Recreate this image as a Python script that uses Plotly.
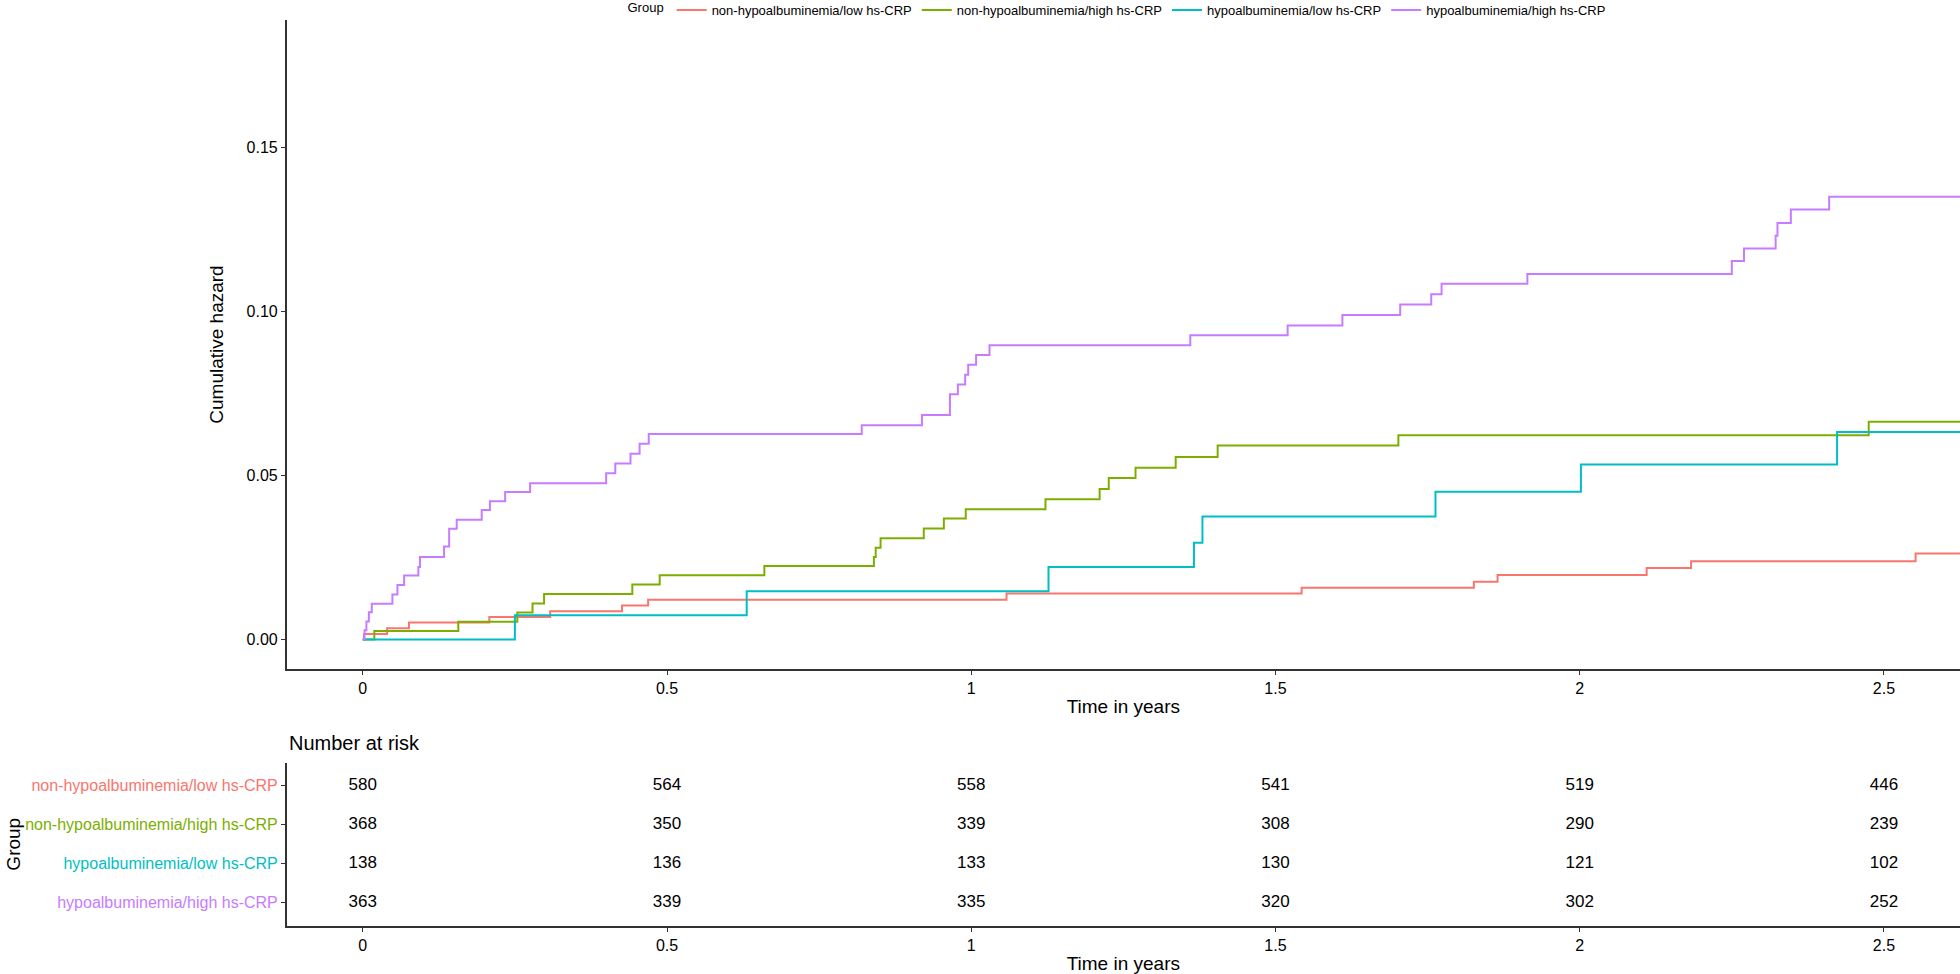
import plotly.graph_objects as go

# ---------------- data ----------------
groups = ["non-hypoalbuminemia/low hs-CRP", "non-hypoalbuminemia/high hs-CRP",
          "hypoalbuminemia/low hs-CRP", "hypoalbuminemia/high hs-CRP"]
colors = ["#F8766D", "#7CAE00", "#00BFC4", "#C77CFF"]

red_t = [0, 0.002, 0.040, 0.076, 0.208, 0.308, 0.426, 0.469, 1.058, 1.543, 1.826, 1.865, 2.110, 2.183, 2.552, 2.70]
red_h = [0, 0.0017, 0.0034, 0.0052, 0.0069, 0.0086, 0.0104, 0.0121, 0.0140, 0.0158, 0.0176, 0.0197, 0.0218, 0.0239, 0.0262, 0.0262]

green_t = [0, 0.019, 0.157, 0.254, 0.279, 0.298, 0.443, 0.488, 0.660, 0.840, 0.843, 0.851, 0.922, 0.955,
           0.991, 1.122, 1.211, 1.226, 1.270, 1.336, 1.405, 1.702, 2.475, 2.70]
green_h = [0, 0.0026, 0.0054, 0.0082, 0.0110, 0.0139, 0.0168, 0.0196, 0.0224, 0.0252, 0.0280, 0.0309, 0.0339, 0.0369,
           0.0397, 0.0428, 0.0459, 0.0493, 0.0524, 0.0557, 0.0592, 0.0623, 0.0664, 0.0664]

cyan_t = [0, 0.250, 0.631, 1.127, 1.366, 1.380, 1.763, 2.002, 2.423, 2.70]
cyan_h = [0, 0.0074, 0.0147, 0.0221, 0.0295, 0.0375, 0.0451, 0.0534, 0.0633, 0.0633]

purple_t = [0, 0.003, 0.006, 0.010, 0.0148, 0.0487, 0.057, 0.068, 0.0914, 0.094, 0.1336, 0.142, 0.1544, 0.1955,
            0.209, 0.234, 0.275, 0.400, 0.415, 0.440, 0.455, 0.470, 0.82, 0.919, 0.965, 0.978, 0.99, 0.995, 1.008,
            1.03, 1.36, 1.52, 1.61, 1.705, 1.756, 1.773, 1.914, 2.250, 2.270, 2.322, 2.325, 2.347, 2.410, 2.70]
purple_h = [0, 0.0028, 0.0055, 0.0083, 0.0109, 0.0137, 0.0166, 0.0195, 0.0221, 0.0252, 0.0284, 0.0338, 0.0365, 0.0395,
            0.0422, 0.0450, 0.0477, 0.0507, 0.0537, 0.0567, 0.0597, 0.0627, 0.0654, 0.0685, 0.0748, 0.0778, 0.0808,
            0.0838, 0.0868, 0.0898, 0.0928, 0.0958, 0.0990, 0.1022, 0.1053, 0.1085, 0.1115, 0.1155, 0.1193, 0.1232,
            0.1271, 0.1312, 0.1351, 0.1351]

risk_times = [0, 0.5, 1, 1.5, 2, 2.5]
risk_red = [580, 564, 558, 541, 519, 446]
risk_green = [368, 350, 339, 308, 290, 239]
risk_cyan = [138, 136, 133, 130, 121, 102]
risk_purple = [363, 339, 335, 320, 302, 252]

x_tickvals = [0, 0.5, 1, 1.5, 2, 2.5]
x_ticktext = ["0", "0.5", "1", "1.5", "2", "2.5"]
y_tickvals = [0, 0.05, 0.10, 0.15]
y_ticktext = ["0.00", "0.05", "0.10", "0.15"]

# ---------------- figure ----------------
W, H = 1960, 974
FONT = "Liberation Sans, Arial, sans-serif"
AX = "#333333"

def fx(p):
    return p / W

def fy(p):
    return 1 - p / H

curves = [(red_t, red_h), (green_t, green_h), (cyan_t, cyan_h), (purple_t, purple_h)]
risks = [risk_red, risk_green, risk_cyan, risk_purple]
rows = [4, 3, 2, 1]

fig = go.Figure()
for name, col, (t, h) in zip(groups, colors, curves):
    fig.add_trace(go.Scatter(x=t, y=h, mode="lines", name=name, line=dict(color=col, width=2, shape="hv"),
                             xaxis="x", yaxis="y"))

for name, vals, r in zip(groups, risks, rows):
    fig.add_trace(go.Scatter(x=risk_times, y=[r] * len(vals), mode="text", text=[str(v) for v in vals],
                             textfont=dict(size=17, color="black", family=FONT), textposition="middle center",
                             showlegend=False, xaxis="x2", yaxis="y2", hoverinfo="skip"))

xdom = [fx(286.7), 1.0]
common_x = dict(range=[-0.125, 2.625], showline=True, linecolor=AX, linewidth=1.5, ticks="outside", ticklen=4,
                tickwidth=1.2, tickcolor=AX, tickvals=x_tickvals, ticktext=x_ticktext,
                tickfont=dict(size=16, color="black", family=FONT), showgrid=False, zeroline=False,
                domain=xdom, automargin=False,
                title=dict(text="Time in years", font=dict(size=19, color="black", family=FONT), standoff=4))

row_labels = [f'<span style="color:{c}">{g}</span>' for g, c in zip(groups, colors)]

fig.update_layout(
    width=W, height=H,
    margin=dict(l=0, r=0, t=0, b=0, autoexpand=False),
    paper_bgcolor="white", plot_bgcolor="white",
    font=dict(family=FONT, color="black"),
    xaxis=dict(anchor="y", **common_x),
    yaxis=dict(domain=[fy(669), fy(20)], range=[-0.009, 0.189], showline=True, linecolor=AX, linewidth=1.5,
               ticks="outside", ticklen=4, tickwidth=1.2, tickcolor=AX, tickvals=y_tickvals, ticktext=y_ticktext,
               tickfont=dict(size=16, color="black", family=FONT), showgrid=False, zeroline=False,
               automargin=False, anchor="x",
               title=dict(text="Cumulative hazard", font=dict(size=19, color="black", family=FONT), standoff=18)),
    xaxis2=dict(anchor="y2", **common_x),
    yaxis2=dict(domain=[fy(926), fy(762.5)], range=[0.4, 4.6], showline=True, linecolor=AX, linewidth=1.5,
                ticks="outside", ticklen=4, tickwidth=1.2, tickcolor=AX, tickvals=rows, ticktext=row_labels,
                tickfont=dict(size=16, family=FONT), showgrid=False, zeroline=False, automargin=False,
                anchor="x2",
                title=dict(text="Group", font=dict(size=19, color="black", family=FONT), standoff=0)),
    legend=dict(orientation="h", x=fx(1118), xanchor="center", y=1.005, yanchor="top",
                title=dict(text="Group", font=dict(size=13, color="black", family=FONT), side="left"),
                font=dict(size=13, color="black", family=FONT), itemwidth=30, bgcolor="rgba(0,0,0,0)",
                tracegroupgap=0),
    annotations=[dict(text="Number at risk", x=fx(287), y=fy(743), xref="paper", yref="paper",
                      xanchor="left", yanchor="middle", showarrow=False,
                      font=dict(size=20, color="black", family=FONT))],
)

fig.write_html("out.html", config={"displayModeBar": False},
               post_script="document.body.style.margin='0';")
